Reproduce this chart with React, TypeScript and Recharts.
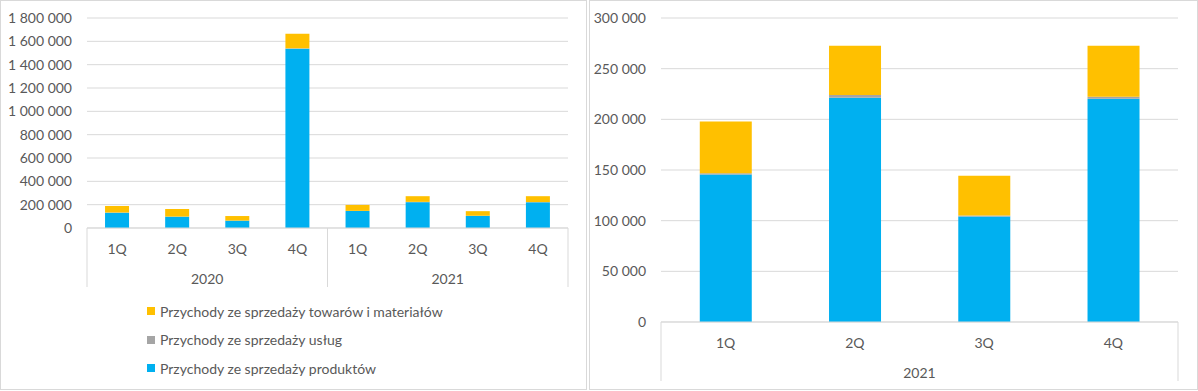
import { BarChart, Bar, XAxis, YAxis, CartesianGrid } from "recharts";

const quarters = ["1Q", "2Q", "3Q", "4Q", "1Q", "2Q", "3Q", "4Q"];
const years = ["2020", "2020", "2020", "2020", "2021", "2021", "2021", "2021"];
const products = [131000, 97000, 63000, 1537000, 145500, 221400, 104000, 220400];
const services = [1200, 900, 600, 3000, 1300, 2600, 1000, 1900];
const goods = [57000, 65000, 39000, 125000, 51000, 48700, 39400, 50400];

const leftTicks = [0, 200000, 400000, 600000, 800000, 1000000, 1200000, 1400000, 1600000, 1800000];
const rightTicks = [0, 50000, 100000, 150000, 200000, 250000, 300000];

const seriesNames = {
  goods: "Przychody ze sprzedaży towarów i materiałów",
  services: "Przychody ze sprzedaży usług",
  products: "Przychody ze sprzedaży produktów",
};

const BLUE = "#00B0F0";
const GRAY = "#A5A5A5";
const YELLOW = "#FFC000";
const GRID = "#D9D9D9";
const TEXT = "#595959";
const FONT = "Lato, 'Open Sans', sans-serif";
const FS = 14;

const allRows = quarters.map((q, i) => ({
  q,
  year: years[i],
  products: products[i],
  services: services[i],
  goods: goods[i],
}));

const fmt = (v: number) => String(v).replace(/\B(?=(\d{3})+(?!\d))/g, " ");

function QuarterTick({ x, y, payload }: any) {
  return (
    <text x={x} y={y + 13} dy="0.355em" textAnchor="middle" fill={TEXT} fontSize={FS} fontFamily={FONT}>
      {payload.value}
    </text>
  );
}

// year row of the two-level axis: label at group centre, separators between groups
function makeYearTick(rows: any[], band: number, axisTop: number, axisBottom: number) {
  return function YearTick({ x, y, payload, index }: any) {
    const i = payload?.index ?? index;
    const first = i === 0 || rows[i - 1].year !== rows[i].year;
    const last = i === rows.length - 1;
    let size = 0;
    if (first) {
      while (i + size < rows.length && rows[i + size].year === rows[i].year) size++;
    }
    return (
      <g>
        {first && <line x1={x - band / 2} x2={x - band / 2} y1={axisTop} y2={axisBottom} stroke={GRID} />}
        {last && <line x1={x + band / 2} x2={x + band / 2} y1={axisTop} y2={axisBottom} stroke={GRID} />}
        {first && (
          <text
            x={x + ((size - 1) / 2) * band}
            y={y + 13}
            dy="0.355em"
            textAnchor="middle"
            fill={TEXT}
            fontSize={FS}
            fontFamily={FONT}
          >
            {rows[i].year}
          </text>
        )}
      </g>
    );
  };
}

function StackChart({ rows, width, yWidth, right, plotBottom, ticks, max }: any) {
  const band = (width - yWidth - right) / rows.length;
  const YearTick = makeYearTick(rows, band, plotBottom, plotBottom + 59);
  return (
    <BarChart
      width={width}
      height={plotBottom + 60}
      data={rows}
      margin={{ top: 18, right, bottom: 0, left: 0 }}
      barCategoryGap="30%"
    >
      <CartesianGrid vertical={false} stroke={GRID} />
      <XAxis
        dataKey="q"
        xAxisId="q"
        height={30}
        axisLine={{ stroke: GRID }}
        tickLine={false}
        tick={<QuarterTick />}
        interval={0}
      />
      <XAxis
        dataKey="year"
        xAxisId="year"
        height={30}
        axisLine={false}
        tickLine={false}
        tick={<YearTick />}
        interval={0}
      />
      <YAxis
        width={yWidth}
        domain={[0, max]}
        ticks={ticks}
        axisLine={false}
        tickLine={false}
        tickMargin={9}
        tickFormatter={fmt}
        tick={{ fill: TEXT, fontSize: FS, fontFamily: FONT }}
        interval={0}
      />
      <Bar dataKey="products" name={seriesNames.products} stackId="a" xAxisId="q" fill={BLUE} isAnimationActive={false} />
      <Bar dataKey="services" name={seriesNames.services} stackId="a" xAxisId="q" fill={GRAY} isAnimationActive={false} />
      <Bar dataKey="goods" name={seriesNames.goods} stackId="a" xAxisId="q" fill={YELLOW} isAnimationActive={false} />
    </BarChart>
  );
}

const legendItems = [
  { name: seriesNames.goods, color: YELLOW },
  { name: seriesNames.services, color: GRAY },
  { name: seriesNames.products, color: BLUE },
];

export default function App() {
  return (
    <div style={{ position: "absolute", left: 0, top: 0, width: 1198, height: 391, background: "#fff" }}>
      <div style={{ position: "absolute", left: 0, top: 0, width: 587, height: 390, border: `1px solid ${GRID}`, boxSizing: "border-box" }} />
      <div style={{ position: "absolute", left: 589, top: 0, width: 609, height: 390, border: `1px solid ${GRID}`, boxSizing: "border-box" }} />
      <div style={{ position: "absolute", left: 0, top: 0 }}>
        <StackChart rows={allRows} width={587} yWidth={87} right={19} plotBottom={228} ticks={leftTicks} max={1800000} />
      </div>
      <div
        style={{
          position: "absolute",
          left: 147,
          top: 297,
          fontFamily: FONT,
          fontSize: FS,
          color: TEXT,
        }}
      >
        {legendItems.map((it) => (
          <div key={it.name} style={{ display: "flex", alignItems: "center", height: 28.5 }}>
            <span style={{ width: 8, height: 8, background: it.color, marginRight: 5, display: "inline-block" }} />
            <span>{it.name}</span>
          </div>
        ))}
      </div>
      <div style={{ position: "absolute", left: 588, top: 0 }}>
        <StackChart rows={allRows.slice(4)} width={608} yWidth={73} right={18} plotBottom={322} ticks={rightTicks} max={300000} />
      </div>
    </div>
  );
}
